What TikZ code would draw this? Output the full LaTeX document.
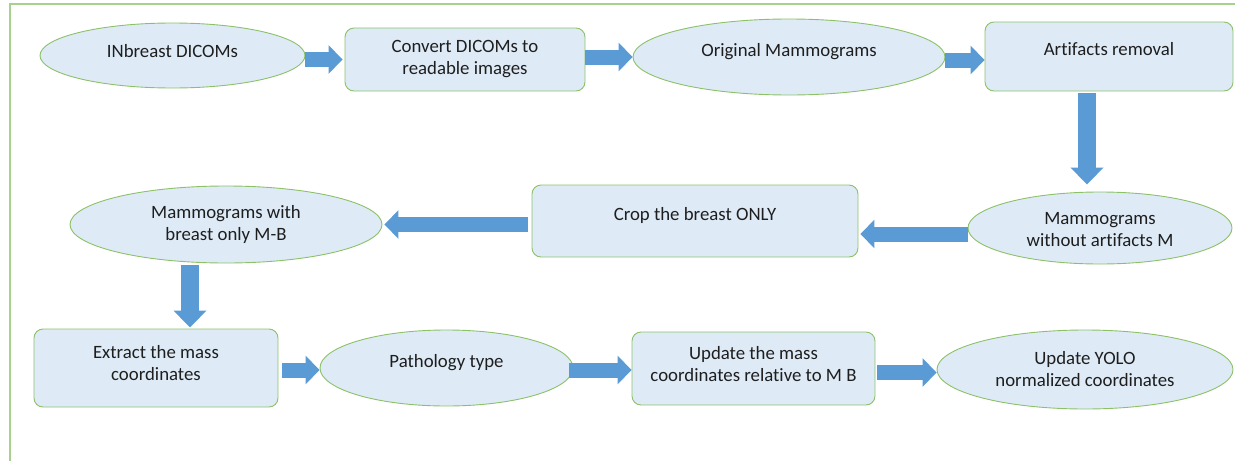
\documentclass[tikz,border=0pt]{standalone}
\usepackage{fontspec}
\setmainfont{Carlito}[Ligatures=NoCommon]
\usetikzlibrary{shapes.geometric,arrows.meta,calc}
\definecolor{nodefill}{HTML}{DEEBF7}
\definecolor{nodeline}{HTML}{8CC168}
\definecolor{framecol}{HTML}{A9D18E}
\definecolor{arrowcol}{HTML}{5B9BD5}
\definecolor{textcol}{HTML}{1E1E1E}
\tikzset{
  base/.style={draw=nodeline, line width=0.9pt, fill=nodefill, inner sep=0pt, align=center, text=textcol,
    font=\fontsize{18.8}{22}\selectfont},
  oval/.style={base, ellipse},
  stepbox/.style={base, rectangle, rounded corners=9pt},
  blk/.style={arrowcol, line width=15pt, -{Triangle[length=14pt,width=28pt]}},
  blkbig/.style={arrowcol, line width=18pt, -{Triangle[length=17pt,width=32pt]}},
}
\begin{document}
\begin{tikzpicture}[x=1pt,y=-1pt]
\useasboundingbox (0,0) rectangle (1235,461);
\draw[framecol, line width=2pt] (10,461) -- (10,4) -- (1235,4);

\node[oval, minimum width=265pt, minimum height=65pt] (n1) at (172.5,55.5) {INbreast DICOMs\\[-13pt]\phantom{x}};
\node[stepbox, minimum width=240pt, minimum height=63pt] (n2) at (465,59.5) {Convert DICOMs to\\readable images};
\node[oval, minimum width=312pt, minimum height=76pt] (n3) at (789,57) {Original Mammograms\\[-8pt]\phantom{x}};
\node[stepbox, minimum width=248pt, minimum height=69pt] (n4) at (1109,56.5) {Artifacts removal\\[-7pt]\phantom{x}};
\node[oval, minimum width=264pt, minimum height=72pt] (n5) at (1100,228) {\phantom{x}\\[-16pt]Mammograms\\without artifacts M};
\node[stepbox, minimum width=326pt, minimum height=72pt] (n6) at (695,221) {Crop the breast ONLY\\[-8pt]\phantom{x}};
\node[oval, minimum width=312pt, minimum height=77pt] (n7) at (226,224.5) {\phantom{x}\\[-18pt]Mammograms with\\breast only M-B};
\node[stepbox, minimum width=244pt, minimum height=78pt] (n8) at (156,368) {Extract the mass\\coordinates\\[-12pt]\phantom{x}};
\node[oval, minimum width=253pt, minimum height=76pt] (n9) at (446.5,368) {Pathology type\\[-8pt]\phantom{x}};
\node[stepbox, minimum width=243pt, minimum height=73pt] (n10) at (753.5,368.5) {Update the mass\\coordinates relative to M B\\[-13pt]\phantom{x}};
\node[oval, minimum width=296pt, minimum height=79pt] (n11) at (1085,369.5) {Update YOLO\\normalized coordinates};

\draw[blk] (n1.east |- n2.west) -- ([xshift=-2pt]n2.west);
\draw[blk] (n2.east |- n3.west) -- (n3.west);
\draw[blk] ([yshift=-3pt]n3.east) -- ([yshift=-3pt]n3.east -| n4.west);
\draw[blkbig] ([xshift=-22pt,yshift=-2pt]n4.south) -- ([xshift=-13pt,yshift=7pt]n5.north);
\coordinate (a5) at ([yshift=-6pt]n5.west);
\draw[blk] (a5) -- ([xshift=2pt]a5 -| n6.east);
\draw[blk] ([xshift=-4pt]n6.west |- n7.east) -- ([xshift=2pt]n7.east);
\draw[blkbig] ([xshift=-36pt,yshift=-2pt]n7.south) -- ([xshift=34pt,yshift=1pt]n8.north);
\draw[blk] ([xshift=4pt,yshift=-2pt]n8.east) -- ([yshift=-2pt]n8.east -| n9.west);
\draw[blk] ([xshift=-4pt,yshift=-2pt]n9.east) -- ([yshift=-2pt]n9.east -| n10.west);
\draw[blk] ([xshift=2pt,yshift=-4pt]n10.east) -- ([yshift=-4pt]n10.east -| n11.west);
\end{tikzpicture}
\end{document}
